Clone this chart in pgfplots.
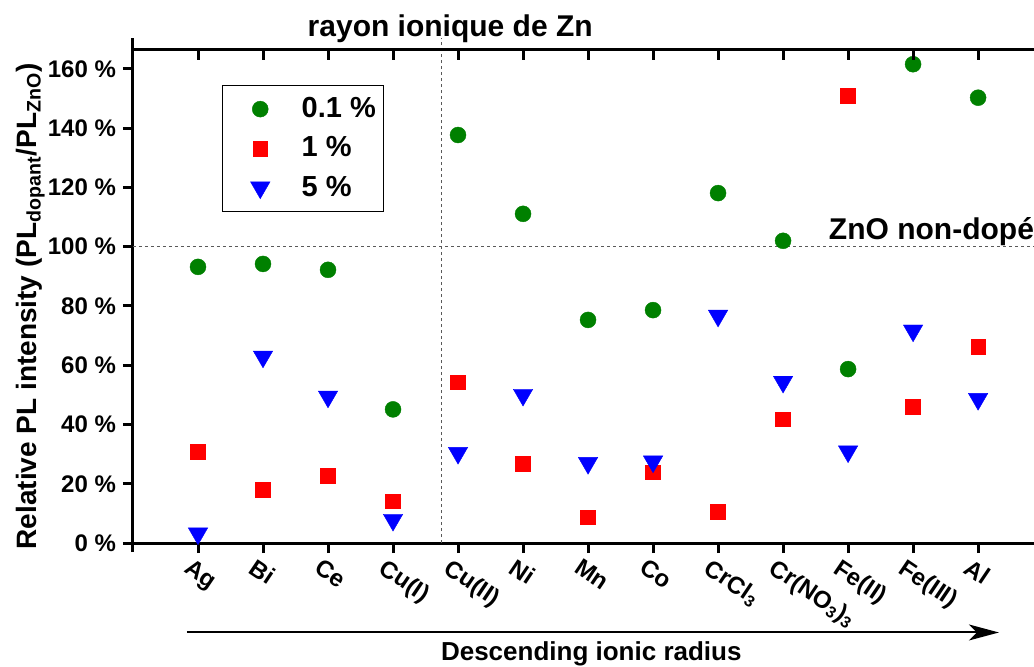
\documentclass[border=0pt]{standalone}
\usepackage{pgfplots}
\pgfplotsset{compat=1.18}
\usepackage{fontspec}
\setmainfont{Liberation Sans}
\usetikzlibrary{arrows.meta}
\definecolor{ogreen}{RGB}{0,128,0}

\begin{document}
\begin{tikzpicture}[font=\bfseries]
\begin{axis}[
    width=450.5pt, height=246.5pt, scale only axis,
    xmin=-1, xmax=12.86, ymin=0, ymax=166.4,
    clip=false,
    axis x line*=bottom, axis y line*=left,
    axis line style={line width=1.5pt, -},
    y axis line style={shorten <=-4.5pt, shorten >=-6pt},
    tick align=outside, major tick length=5pt,
    tick style={line width=1.5pt, black},
    xtick={0,...,12},
    xticklabels={Ag,Bi,Ce,Cu(I),Cu(II),Ni,Mn,Co,CrCl\textsubscript{3},Cr(NO\textsubscript{3})\textsubscript{3},Fe(II),Fe(III),Al},
    ytick={0,20,...,160},
    yticklabels={0 \%,20 \%,40 \%,60 \%,80 \%,100 \%,120 \%,140 \%,160 \%},
    x tick label style={rotate=-34, anchor=north west, xshift=-4.5pt, font=\fontsize{12}{14}\selectfont\bfseries},
    y tick label style={font=\fontsize{12}{14}\selectfont\bfseries},
    ylabel={Relative PL intensity (PL\textsubscript{dopant}/PL\textsubscript{ZnO})},
    ylabel style={at={(axis description cs:-0.114,0.48)}, anchor=center, font=\fontsize{14}{16}\selectfont\bfseries},
    legend style={at={(axis description cs:0.099,0.929)}, anchor=north west,
        draw=black, line width=0.5pt, inner xsep=2pt, inner ysep=4pt,
        font=\fontsize{14.5}{16}\selectfont\bfseries, row sep=4pt,
        cells={anchor=west}},
    legend image code/.code={\draw[#1] plot coordinates {(0.3cm,0cm)}; \path (-8pt,0cm) (27pt,0cm);},
]
% reference lines
\addplot[forget plot, gray!70!black, line width=0.6pt, dash pattern=on 1.5pt off 1.5pt] coordinates {(-1,100) (12.86,100)};
\addplot[forget plot, gray!70!black, line width=0.6pt, dash pattern=on 1.5pt off 1.5pt] coordinates {(3.75,0) (3.75,170.5)};

% 0.1 %
\addplot[only marks, mark=*, mark size=4pt, color=ogreen, mark options={line width=0.2pt}] coordinates {
(0,93.2) (1,94.2) (2,92.2) (3,45.1) (4,137.7) (5,111.1) (6,75.3)
(7,78.6) (8,118.1) (9,102.0) (10,58.7) (11,161.6) (12,150.3)};
% 1 %
\addplot[only marks, mark=square*, mark size=3.7pt, color=red, mark options={line width=0.2pt}] coordinates {
(0,30.9) (1,18.1) (2,22.8) (3,14.1) (4,54.3) (5,26.9) (6,8.7)
(7,23.9) (8,10.7) (9,41.8) (10,151.1) (11,46.1) (12,66.2)};
% 5 %
\addplot[only marks, mark=triangle*, mark size=5.6pt, color=blue, mark options={rotate=180, line width=0.2pt}] coordinates {
(0,3.2) (1,62.9) (2,49.4) (3,7.8) (4,30.4) (5,50.0) (6,27.0)
(7,27.5) (8,76.7) (9,54.4) (10,30.9) (11,71.7) (12,48.6)};
\legend{0.1 \%, 1 \%, 5 \%}

\node[anchor=base, font=\fontsize{15}{17}\selectfont\bfseries] at (axis cs:3.88,170.8) {rayon ionique de Zn};
\node[anchor=base west, inner xsep=0pt, font=\fontsize{15}{17}\selectfont\bfseries] at (axis cs:9.70,102.3) {ZnO non-dopé};
\draw[line width=1pt, -{Stealth[length=15pt, width=8pt, inset=4pt]}] (axis cs:-0.17,-30.2) -- (axis cs:12.32,-30.2);
\node[anchor=base, font=\fontsize{13}{15}\selectfont\bfseries] at (axis cs:6.05,-39.8) {Descending ionic radius};
\end{axis}

% top axis with inward ticks
\begin{axis}[
    width=450.5pt, height=246.5pt, scale only axis,
    xmin=-1, xmax=12.86, ymin=0, ymax=166.4,
    axis x line*=top, axis y line=none,
    axis line style={line width=1.5pt, -},
    tick align=inside, major tick length=5pt,
    tick style={line width=1.5pt, black},
    xtick={0,...,12}, xticklabels={},
]
\end{axis}

\pgfresetboundingbox
\useasboundingbox (-66.5pt,-61.5pt) rectangle (450.5pt,271.5pt);
\end{tikzpicture}
\end{document}
